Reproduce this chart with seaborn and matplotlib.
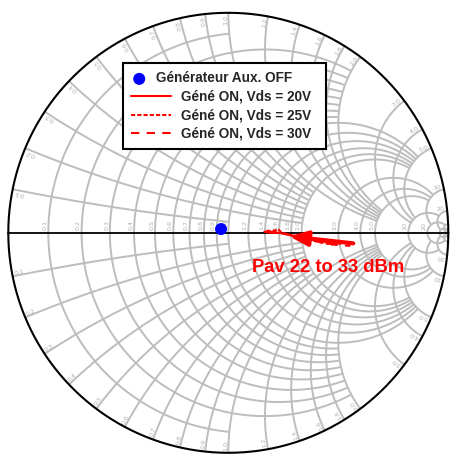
import numpy as np
import matplotlib
matplotlib.use("Agg")
import matplotlib.pyplot as plt
import seaborn as sns
import pandas as pd

# ---------------- data (reflection coefficient) ----------------
off_re = [-0.033]
off_im = [0.017]

v20_re = [0.164, 0.191, 0.227, 0.273, 0.327, 0.382, 0.441, 0.509]
v20_im = [0.005, 0.000, 0.000, -0.009, -0.018, -0.032, -0.041, -0.050]
v25_re = [0.173, 0.209, 0.223, 0.245, 0.291, 0.345, 0.409, 0.477]
v25_im = [0.009, 0.009, 0.018, 0.000, -0.014, -0.027, -0.041, -0.055]
v30_re = [0.182, 0.218, 0.264, 0.318, 0.373, 0.427, 0.491, 0.555]
v30_im = [0.005, 0.005, -0.005, -0.018, -0.032, -0.045, -0.055, -0.059]

labels = ["Générateur Aux. OFF", "Géné ON, Vds = 20V",
          "Géné ON, Vds = 25V", "Géné ON, Vds = 30V"]

# Smith chart grid definition (circle value, value where the circle stops)
grid_vals = [0.1, 0.2, 0.3, 0.4, 0.5, 0.6, 0.7, 0.8, 0.9, 1.0,
             1.2, 1.4, 1.6, 1.8, 2.0, 3.0, 4.0, 5.0, 10, 20, 50]
grid_ends = [1, 2, 2, 2, 2, 2, 2, 2, 2, 5,
             5, 5, 5, 5, 5, 10, 10, 10, 20, 50, 1e6]

annot_text = "Pav 22 to 33 dBm"

# ---------------- figure ----------------
W, H = 450, 454
CX, CY, R = 228.3, 232.8, 220.0
sns.set_style("white")
plt.rcParams["font.family"] = ["Liberation Sans", "DejaVu Sans"]

fig = plt.figure(figsize=(W / 100, H / 100), dpi=100)
ax = fig.add_axes([0, 0, 1, 1])
ax.set_xlim(-CX / R, (W - CX) / R)
ax.set_ylim((CY - H) / R, CY / R)
ax.set_aspect("equal")
ax.axis("off")

GRID_C = "#bdbdbd"
LAB_C = "#b0b0b0"
GLW = 1.4


def gam(z):
    return (z - 1) / (z + 1)


# resistance circles
for r, v in zip(grid_vals, grid_ends):
    c, rho = r / (1 + r), 1 / (1 + r)
    g = gam(r + 1j * v)
    phv = np.arctan2(g.imag, g.real - c)
    ph = np.linspace(phv, 2 * np.pi - phv, 400)
    ax.plot(c + rho * np.cos(ph), rho * np.sin(ph), color=GRID_C, lw=GLW, zorder=1,
            solid_capstyle="butt")

# reactance arcs
for xv, v in zip(grid_vals, grid_ends):
    for s in (1, -1):
        x = s * xv
        cy = 1 / x
        g0 = gam(1j * x)
        g1 = gam(v + 1j * x)
        a0 = np.arctan2(g0.imag - cy, g0.real - 1)
        a1 = np.arctan2(g1.imag - cy, g1.real - 1)
        d = (a1 - a0 + np.pi) % (2 * np.pi) - np.pi
        a = a0 + np.linspace(0, 1, 300) * d
        ax.plot(1 + np.cos(a) / abs(x), cy + np.sin(a) / abs(x), color=GRID_C, lw=GLW,
                zorder=1, solid_capstyle="butt")

# outer circle and real axis
t = np.linspace(0, 2 * np.pi, 721)
ax.plot(np.cos(t), np.sin(t), color="black", lw=1.5, zorder=3)
ax.plot([-1, 1], [0, 0], color="black", lw=1.3, zorder=3)


def fmt(v):
    return f"{v:.1f}" if v < 10 else f"{v:g}"


# resistance labels along real axis
for r in grid_vals[:-1]:
    g = (r - 1) / (r + 1)
    ax.text(g - 0.003, 0.012, fmt(r), rotation=90, rotation_mode="anchor",
            ha="left", va="bottom", fontsize=4.6, color=LAB_C, family="DejaVu Sans",
            zorder=2)

# reactance labels along outer circle
for xv in grid_vals[:-1]:
    for s in (1, -1):
        g = gam(1j * s * xv)
        th = np.degrees(np.arctan2(g.imag, g.real))
        p = 0.99 * np.array([np.cos(np.radians(th)), np.sin(np.radians(th))])
        if s > 0:
            ax.text(p[0], p[1], fmt(xv), rotation=th, rotation_mode="anchor",
                    ha="right", va="bottom", fontsize=4.6, color=LAB_C,
                    family="DejaVu Sans", zorder=2)
        else:
            ax.text(p[0], p[1], fmt(xv), rotation=th + 180, rotation_mode="anchor",
                    ha="left", va="bottom", fontsize=4.6, color=LAB_C,
                    family="DejaVu Sans", zorder=2)

# ---------------- data series ----------------
df_off = pd.DataFrame({"re": off_re, "im": off_im})
sns.scatterplot(data=df_off, x="re", y="im", color="#0000ff", s=75, edgecolor="none",
                ax=ax, zorder=6, label=labels[0])

for re_, im_, lab, ls in [(v20_re, v20_im, labels[1], "-"),
                          (v25_re, v25_im, labels[2], (0, (2, 1))),
                          (v30_re, v30_im, labels[3], (0, (4, 3.5)))]:
    d = pd.DataFrame({"re": re_, "im": im_})
    sns.lineplot(data=d, x="re", y="im", sort=False, estimator=None, color="red",
                 lw=1.5, linestyle=ls, ax=ax, zorder=5, label=lab)

# annotation arrow + text
ax.annotate("", xy=(0.277, -0.016), xytext=(0.568, -0.048),
            arrowprops=dict(arrowstyle="-|>,head_length=1.1,head_width=0.45",
                            lw=3, color="red", shrinkA=0, shrinkB=0),
            zorder=7)
ax.text(0.455, -0.16, annot_text, color="red", fontsize=13.2, fontweight="bold",
        ha="center", va="center", zorder=7)

ax.set_xlabel("")
ax.set_ylabel("")
leg = ax.legend(loc="upper left", bbox_to_anchor=(123 / W, 1 - 63 / H),
                bbox_transform=fig.transFigure, borderaxespad=0, frameon=True,
                fancybox=False, framealpha=1, edgecolor="black",
                prop=dict(family="Liberation Sans", weight="bold", size=9.8),
                handlelength=2.9, handletextpad=0.75, labelspacing=0.33,
                borderpad=0.62)
leg.get_frame().set_linewidth(1.5)
leg.set_zorder(10)

# marker-only entry: narrower icon like the original legend
try:
    h0 = leg.legend_handles[0]
    offs = np.asarray(h0.get_offsets(), dtype=float)
    h0.set_offsets(offs - np.array([8.6, 0.0]))
    leg.get_texts()[0].set_x(-25)
except Exception:
    pass

fig.savefig("out.png", dpi=100)
